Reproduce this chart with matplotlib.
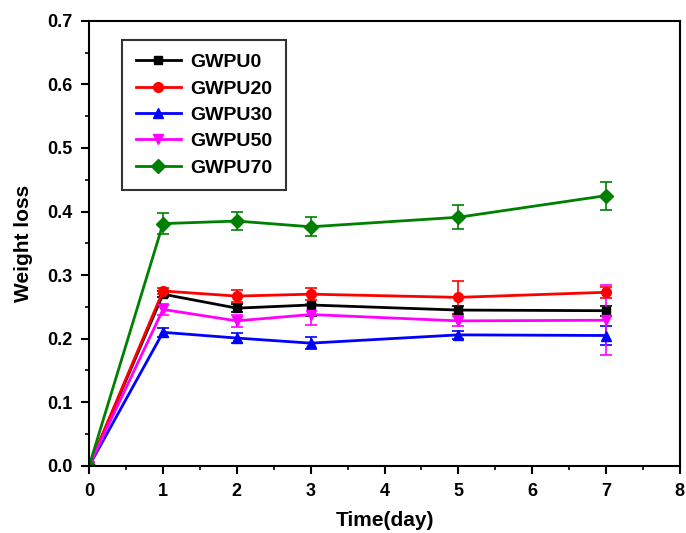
import numpy as np
import matplotlib
matplotlib.use("Agg")
import matplotlib.pyplot as plt
from matplotlib.ticker import MultipleLocator
from matplotlib.lines import Line2D

plt.rcParams['font.family'] = ['Liberation Sans', 'DejaVu Sans']
plt.rcParams['font.weight'] = 'bold'

# Datos
dias = [0, 1, 2, 3, 5, 7]
series = ['GWPU0', 'GWPU20', 'GWPU30', 'GWPU50', 'GWPU70']
gwpu0 = [0.0, 0.270, 0.248, 0.253, 0.245, 0.244]
gwpu20 = [0.0, 0.275, 0.267, 0.270, 0.265, 0.273]
gwpu30 = [0.0, 0.210, 0.201, 0.193, 0.206, 0.205]
gwpu50 = [0.0, 0.246, 0.228, 0.238, 0.228, 0.229]
gwpu70 = [0.0, 0.381, 0.385, 0.376, 0.391, 0.425]
err0 = [0.0, 0.005, 0.006, 0.017, 0.006, 0.008]
err20 = [0.0, 0.004, 0.010, 0.009, 0.026, 0.009]
err30 = [0.0, 0.007, 0.008, 0.009, 0.006, 0.015]
err50 = [0.0, 0.008, 0.010, 0.016, 0.008, 0.055]
err70 = [0.0, 0.017, 0.014, 0.015, 0.019, 0.022]

valores = [gwpu0, gwpu20, gwpu30, gwpu50, gwpu70]
errores = [err0, err20, err30, err50, err70]
colores = ['black', 'red', 'blue', 'magenta', 'green']
marcadores = ['s', 'o', '^', 'v', 'D']
tamanos = [6, 7, 7, 7, 7]

fig = plt.figure(figsize=(6.86, 5.33), dpi=100)
ax = fig.add_axes([0.13, 0.126, 0.861, 0.835])

handles = []
for nombre, y, e, c, m, s in zip(series, valores, errores, colores, marcadores, tamanos):
    ax.errorbar(dias, y, yerr=e, color=c, marker=m, markersize=s, lw=2,
                elinewidth=1.2, capsize=4, capthick=1.2)
    handles.append(Line2D([], [], color=c, marker=m, markersize=s, lw=2, label=nombre))

ax.set_xlim(0, 8)
ax.set_ylim(0, 0.7)
ax.xaxis.set_major_locator(MultipleLocator(1))
ax.xaxis.set_minor_locator(MultipleLocator(0.5))
ax.yaxis.set_major_locator(MultipleLocator(0.1))
ax.yaxis.set_minor_locator(MultipleLocator(0.05))
ax.tick_params(which='major', direction='out', length=6, width=1.5, labelsize=13, pad=6)
ax.tick_params(which='minor', direction='out', length=3, width=1.2)
for sp in ax.spines.values():
    sp.set_linewidth(1.5)
ax.set_xlabel("Time(day)", fontsize=15, fontweight='bold', labelpad=8)
ax.set_ylabel("Weight loss", fontsize=15, fontweight='bold', labelpad=10)

leg = ax.legend(handles=handles, loc='upper left', bbox_to_anchor=(0.056, 0.957), fontsize=14,
                fancybox=False, edgecolor='black', handlelength=2.3,
                labelspacing=0.45, borderpad=0.7, handletextpad=0.5,
                borderaxespad=0)
leg.get_frame().set_linewidth(1.5)

fig.savefig("out.png", dpi=100)
